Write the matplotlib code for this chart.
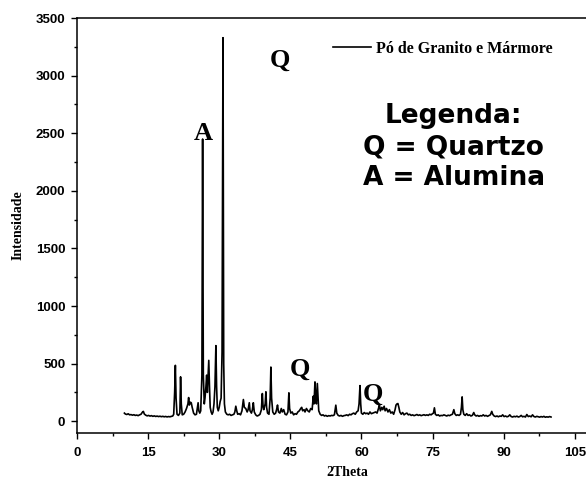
import matplotlib
matplotlib.use("Agg")
import matplotlib.pyplot as plt
from matplotlib.ticker import MultipleLocator, AutoMinorLocator

# 2Theta positions (degrees)
two_theta = [
    10.0, 10.2, 10.5, 10.8, 11.1, 11.4, 11.7, 12.0, 12.3, 12.6, 12.9, 13.2, 13.5, 13.8, 14.0, 14.2,
    14.5, 14.8, 15.1, 15.4, 15.7, 16.0, 16.3, 16.6, 16.9, 17.2, 17.5, 17.8, 18.1, 18.4, 18.7, 19.0,
    19.3, 19.6, 19.9, 20.2, 20.4, 20.6, 20.75, 20.9, 21.1, 21.4, 21.7, 21.85, 22.0, 22.2, 22.5, 22.8,
    23.1, 23.4, 23.55, 23.7, 23.9, 24.1, 24.3, 24.6, 24.9, 25.2, 25.4, 25.55, 25.7, 25.9, 26.1, 26.35,
    26.5, 26.65, 26.85, 27.0, 27.2, 27.35, 27.5, 27.65, 27.8, 27.95, 28.1, 28.3, 28.5, 28.7, 28.9, 29.1,
    29.3, 29.45, 29.6, 29.8, 30.0, 30.2, 30.4, 30.6, 30.8, 30.95, 31.1, 31.3, 31.6, 31.9, 32.2, 32.5,
    32.8, 33.1, 33.3, 33.5, 33.7, 33.9, 34.2, 34.5, 34.8, 35.1, 35.3, 35.6, 35.9, 36.1, 36.35, 36.5,
    36.8, 37.0, 37.2, 37.4, 37.7, 38.0, 38.3, 38.6, 38.9, 39.1, 39.25, 39.4, 39.7, 39.85, 40.0, 40.2,
    40.5, 40.75, 40.9, 41.05, 41.3, 41.6, 41.9, 42.1, 42.3, 42.5, 42.8, 43.1, 43.3, 43.6, 43.9, 44.2,
    44.5, 44.7, 44.85, 45.1, 45.4, 45.7, 46.0, 46.3, 46.6, 46.9, 47.2, 47.4, 47.6, 47.9, 48.1, 48.4,
    48.7, 49.0, 49.3, 49.6, 49.85, 50.0, 50.2, 50.35, 50.5, 50.7, 50.85, 51.0, 51.3, 51.6, 51.9, 52.2,
    52.5, 52.8, 53.1, 53.4, 53.7, 54.0, 54.3, 54.6, 54.8, 55.1, 55.4, 55.7, 56.0, 56.3, 56.6, 56.9,
    57.2, 57.5, 57.8, 58.1, 58.4, 58.7, 59.0, 59.3, 59.5, 59.7, 59.85, 60.0, 60.3, 60.6, 60.9, 61.2,
    61.5, 61.8, 62.1, 62.4, 62.7, 63.0, 63.3, 63.6, 63.8, 64.0, 64.3, 64.5, 64.8, 65.0, 65.3, 65.6,
    65.9, 66.2, 66.5, 66.8, 67.1, 67.3, 67.5, 67.7, 67.9, 68.1, 68.4, 68.7, 69.0, 69.3, 69.6, 69.9,
    70.2, 70.5, 70.8, 71.1, 71.4, 71.7, 72.0, 72.3, 72.6, 72.9, 73.2, 73.5, 73.8, 74.1, 74.4, 74.7,
    75.0, 75.2, 75.4, 75.6, 75.9, 76.2, 76.5, 76.8, 77.1, 77.4, 77.7, 78.0, 78.3, 78.6, 78.9, 79.2,
    79.5, 79.7, 80.0, 80.3, 80.6, 80.9, 81.1, 81.25, 81.4, 81.6, 81.9, 82.2, 82.5, 82.8, 83.1, 83.4,
    83.7, 83.9, 84.2, 84.5, 84.8, 85.1, 85.4, 85.7, 86.0, 86.3, 86.6, 86.9, 87.2, 87.5, 87.7, 88.0,
    88.3, 88.6, 88.9, 89.2, 89.5, 89.8, 90.1, 90.4, 90.7, 91.0, 91.3, 91.6, 91.9, 92.2, 92.5, 92.8,
    93.1, 93.4, 93.7, 94.0, 94.3, 94.6, 94.9, 95.2, 95.5, 95.8, 96.1, 96.4, 96.7, 97.0, 97.3, 97.6,
    97.9, 98.2, 98.5, 98.8, 99.1, 99.4, 99.7, 100.0,
]

# intensity (counts) at each position
intensidade = [
    70, 62, 58, 64, 55, 57, 52, 56, 50, 53, 48, 55, 60, 78, 85, 62,
    52, 46, 50, 44, 48, 42, 46, 41, 44, 40, 43, 39, 42, 38, 41, 37,
    40, 38, 42, 45, 60, 250, 485, 200, 60, 50, 70, 385, 150, 55, 60, 80,
    110, 150, 205, 140, 165, 160, 120, 70, 55, 60, 120, 160, 90, 70, 90, 400,
    2450, 400, 150, 200, 300, 400, 250, 380, 528, 300, 120, 80, 60, 80, 150, 300,
    656, 300, 120, 90, 120, 170, 200, 600, 3330, 500, 150, 80, 60, 55, 60, 50,
    55, 60, 80, 130, 90, 60, 65, 55, 90, 188, 120, 110, 80, 100, 160, 90,
    70, 100, 160, 80, 55, 45, 50, 60, 100, 240, 130, 100, 150, 255, 120, 70,
    60, 200, 470, 200, 80, 60, 70, 100, 140, 80, 70, 110, 80, 100, 60, 55,
    80, 246, 110, 70, 80, 55, 65, 60, 80, 90, 110, 120, 90, 100, 80, 110,
    90, 80, 110, 100, 217, 150, 341, 200, 150, 327, 200, 90, 60, 50, 55, 45,
    50, 42, 48, 45, 50, 48, 55, 139, 70, 50, 45, 50, 42, 48, 50, 55,
    48, 60, 55, 65, 70, 60, 80, 90, 150, 309, 150, 70, 60, 75, 65, 70,
    60, 80, 65, 70, 75, 80, 70, 110, 140, 90, 120, 100, 130, 90, 110, 80,
    100, 70, 80, 60, 100, 140, 150, 153, 120, 80, 60, 75, 55, 65, 70, 55,
    60, 50, 55, 48, 52, 58, 50, 55, 48, 52, 56, 50, 55, 50, 60, 55,
    65, 70, 116, 60, 50, 55, 45, 50, 48, 55, 50, 45, 52, 48, 55, 60,
    100, 65, 50, 55, 50, 60, 120, 211, 100, 60, 50, 65, 50, 55, 45, 50,
    75, 55, 45, 50, 42, 48, 45, 55, 45, 50, 42, 48, 55, 85, 60, 45,
    40, 45, 38, 45, 42, 55, 40, 45, 38, 42, 55, 40, 36, 42, 38, 44,
    36, 40, 50, 38, 42, 36, 58, 40, 45, 38, 55, 40, 36, 42, 38, 35,
    40, 36, 42, 34, 38, 35, 40, 36,
]

# phase markers: (letter, 2Theta, intensity)
marcas = [("Q", 42.8, 3130), ("A", 26.6, 2500), ("Q", 47.0, 450), ("Q", 62.4, 230)]

serif = "Liberation Serif"
sans = "Liberation Sans"

fig = plt.figure(figsize=(5.86, 4.86), dpi=100)
ax = fig.add_axes([0.1314, 0.1097, 0.8898, 0.853])

ax.plot(two_theta, intensidade, color="black", lw=1.2, label="Pó de Granito e Mármore")

ax.set_xlim(0, 110)
ax.set_ylim(-100, 3500)
ax.xaxis.set_major_locator(MultipleLocator(15))
ax.xaxis.set_minor_locator(AutoMinorLocator(2))
ax.yaxis.set_major_locator(MultipleLocator(500))
ax.yaxis.set_minor_locator(AutoMinorLocator(2))
ax.spines["right"].set_visible(False)
for s in ("left", "bottom", "top"):
    ax.spines[s].set_linewidth(1.1)
ax.tick_params(which="major", direction="out", length=4.5, width=1.0, pad=4)
ax.tick_params(which="minor", direction="out", length=2.5, width=1.0)
ax.tick_params(axis="x", which="major", pad=6)
ax.tick_params(top=False, right=False)
for lab in ax.get_xticklabels() + ax.get_yticklabels():
    lab.set_fontfamily(sans)
    lab.set_fontweight("bold")
    lab.set_fontsize(9.5)

ax.set_ylabel("Intensidade", fontfamily=serif, fontweight="bold", fontsize=10, labelpad=8)
ax.text(57, -450, "2Theta", fontfamily=serif, fontweight="bold", fontsize=10,
        ha="center", va="center")

for letra, x, y in marcas:
    ax.text(x, y, letra, fontfamily=serif, fontweight="bold", fontsize=19,
            ha="center", va="center")

ax.text(79.5, 2380, "Legenda:\nQ = Quartzo\nA = Alumina", fontfamily="DejaVu Sans",
        fontweight="bold", fontsize=19, ha="center", va="center", multialignment="center",
        linespacing=1.25)

leg = ax.legend(loc="upper left", bbox_to_anchor=(0.463, 0.98), frameon=False,
                handlelength=2.4, handletextpad=0.3,
                prop={"family": serif, "weight": "bold", "size": 11.5})

fig.savefig("out.png", dpi=100)
